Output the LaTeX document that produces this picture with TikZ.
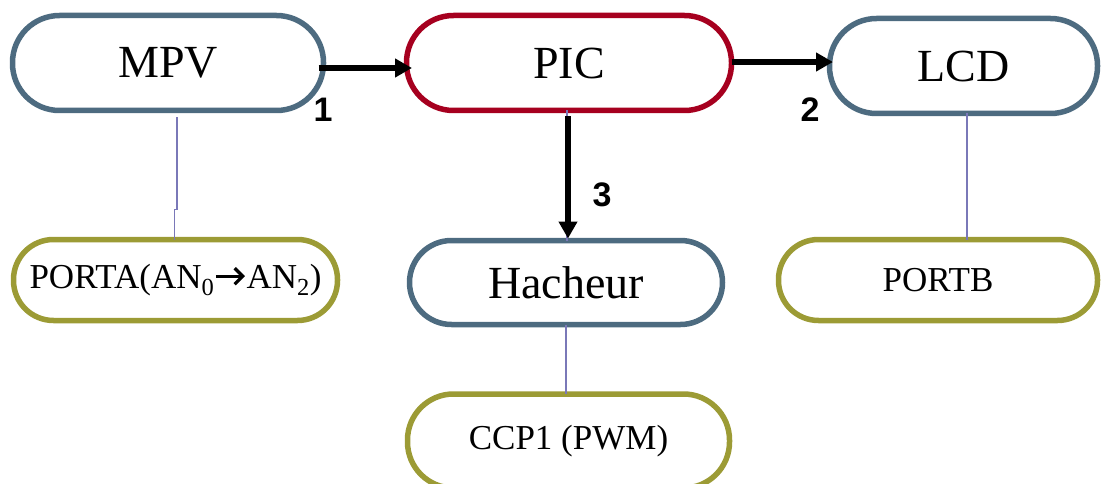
\documentclass[tikz,border=0pt]{standalone}
\usepackage{fontspec}
\setmainfont{Liberation Serif}
\newfontfamily\labelfont{Liberation Sans}
\usetikzlibrary{arrows.meta}
\definecolor{slateblue}{HTML}{4D6B80}
\definecolor{crimsonred}{HTML}{A6001F}
\definecolor{olivegreen}{HTML}{9C9B35}
\definecolor{wireblue}{HTML}{7A78B8}
\tikzset{
  block/.style={draw, line width=5.5pt, fill=white, outer sep=0pt, inner sep=0pt,
    font=\fontsize{46}{50}\selectfont},
  mainblock/.style={block, draw=slateblue},
  cpublock/.style={block, draw=crimsonred},
  portblock/.style={block, draw=olivegreen, font=\fontsize{35}{40}\selectfont},
  flow/.style={line width=5.5pt, -{Triangle[length=17pt,width=18pt]}},
  wire/.style={draw=wireblue, line width=1.3pt},
  numlabel/.style={font=\labelfont\bfseries\fontsize{34}{38}\selectfont, inner sep=0pt}
}
\newcommand{\portarrow}{\tikz[baseline=0pt]\draw[line width=3.2pt,-{Straight Barb[length=8pt,width=16pt]}] (0pt,12pt) -- (29pt,12pt);}
\begin{document}
\begin{tikzpicture}[x=1pt, y=-1pt]
  \useasboundingbox (0,0) rectangle (1101,484);

  % blocks
  \node[mainblock, minimum width=311pt, minimum height=95pt, rounded corners=47pt] (mpv) at (168,63) {MPV};
  \node[cpublock, minimum width=325pt, minimum height=95pt, rounded corners=47pt] (pic) at (569,63) {PIC};
  \node[mainblock, minimum width=268pt, minimum height=95pt, rounded corners=47pt] (lcd) at (963.5,66) {LCD};
  \node[portblock, minimum width=324pt, minimum height=81pt, rounded corners=40pt] (porta) at (175.5,280)
    {PORTA(AN\textsubscript{0}\portarrow AN\textsubscript{2})};
  \node[mainblock, minimum width=313pt, minimum height=84pt, rounded corners=42pt] (hacheur) at (566,282.5) {Hacheur};
  \node[portblock, minimum width=319pt, minimum height=81pt, rounded corners=40pt] (portb) at (938,280) {PORTB};
  \node[portblock, minimum width=322pt, minimum height=94pt, rounded corners=46pt] (ccp) at (568.5,441) {CCP1 (PWM)};

  % links between blocks and their ports
  \draw[wire] ([xshift=9pt,yshift=-7pt]mpv.south) -- ++(0,92) -- ++(-2.5,0) -- ([xshift=-1pt]porta.north);
  \draw[wire] ([xshift=3.5pt]lcd.south) -- ([xshift=3.5pt]lcd.south |- portb.north);
  \draw[wire] (hacheur.south) -- (hacheur.south |- ccp.north);
  \draw[wire] ([xshift=-2pt]pic.south) -- ([xshift=-2pt]pic.south |- hacheur.north);

  % data flow
  \draw[flow] ([xshift=-5pt,yshift=-5pt]mpv.east) -- ([xshift=5.5pt,yshift=-5pt]pic.west);
  \draw[flow] ([yshift=1pt]pic.east) -- ([xshift=3.5pt,yshift=1pt]pic.east -| lcd.west);
  \draw[flow] ([xshift=-1pt,yshift=-6pt]pic.south) -- ([xshift=-1pt,yshift=2pt]pic.south |- hacheur.north);

  \node[numlabel] (n1) at (323,110) {1};
  \node[numlabel] (n2) at (810,110) {2};
  \node[numlabel] (n3) at (602,195) {3};
\end{tikzpicture}
\end{document}
